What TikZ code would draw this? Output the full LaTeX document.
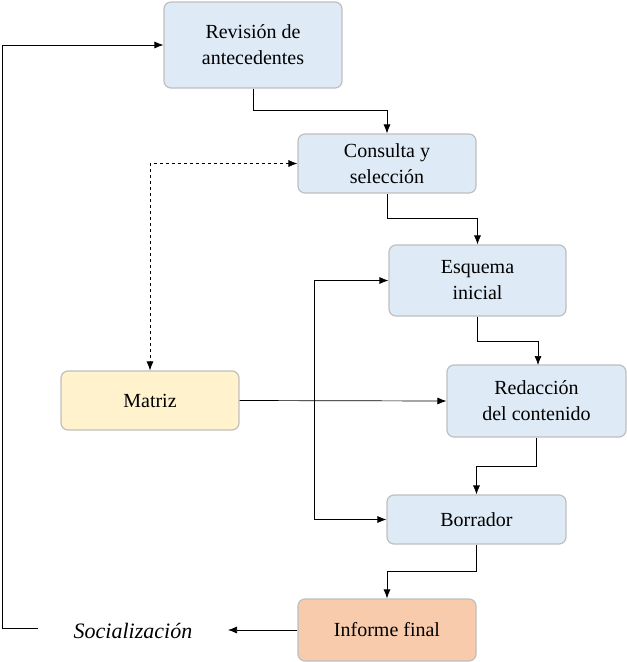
\documentclass[tikz,border=0pt]{standalone}
\usepackage{fontspec}
\setmainfont{Liberation Serif}
\usetikzlibrary{arrows.meta}
\definecolor{bl}{HTML}{DEEBF7}
\definecolor{ye}{HTML}{FFF2CC}
\definecolor{orr}{HTML}{F8CBAD}
\begin{document}
\begin{tikzpicture}[x=1pt,y=-1pt,
 box/.style={draw=gray!50,line width=1.2pt,rounded corners=7pt,fill=bl,align=center,inner sep=0pt,font=\fontsize{20}{26}\selectfont},
 con/.style={line width=0.7pt,-{Latex[length=9pt,width=7pt]}}]
\useasboundingbox (0,0) rectangle (627,662);
\node[box,minimum width=178pt,minimum height=86pt] (rev) at (253,45) {Revisión de\\antecedentes};
\node[box,minimum width=178pt,minimum height=59pt] (con) at (387,163.5) {Consulta y\\selección};
\node[box,minimum width=177pt,minimum height=71pt] (esq) at (477.5,280.5) {Esquema\\inicial};
\node[box,minimum width=179pt,minimum height=72pt] (red) at (536.5,401) {Redacción\\del contenido};
\node[box,minimum width=179pt,minimum height=49pt] (bor) at (476.5,519.5) {Borrador};
\node[box,fill=orr,minimum width=178pt,minimum height=62pt] (inf) at (387,630) {Informe final};
\node[box,fill=ye,minimum width=178pt,minimum height=59pt] (mat) at (150,400.5) {Matriz};
\node[font=\fontsize{22}{26}\selectfont\itshape,inner sep=0pt] (soc) at (133,631) {Socialización};
\coordinate (s0) at (38,628);
\draw[con] (rev.south) |- (387,110) -- (con.north);
\draw[con] (con.south) |- (477.5,218) -- (esq.north);
\draw[con] (esq.south) |- (538,341) -- (538,365);
\draw[con] (red.south) |- (476.5,466) -- (bor.north);
\draw[con] (bor.south) |- (387,571) -- (inf.north);
\draw[con] (inf.west) -- (228,630);
\draw[con] (s0) -- (2,628) |- (rev.west);
\draw[con] (mat.east) -- (red.west);
\draw[con] (314,401) |- (esq.west);
\draw[con] (314,401) |- (bor.west);
\draw[con,dashed,{Latex[length=9pt,width=7pt]}-{Latex[length=9pt,width=7pt]}] (con.west) -| (mat.north);
\end{tikzpicture}
\end{document}
